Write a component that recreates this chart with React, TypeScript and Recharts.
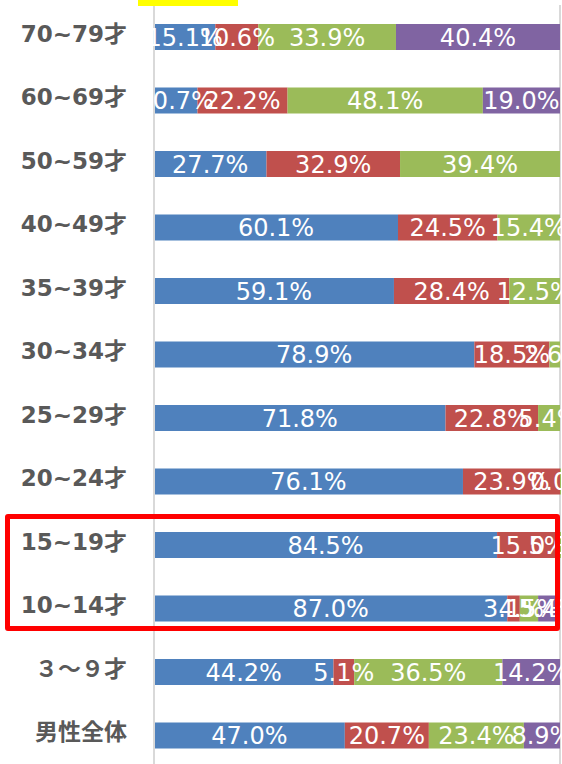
import React from "react";
import {
  BarChart,
  Bar,
  XAxis,
  YAxis,
  CartesianGrid,
  LabelList,
} from "recharts";

const categories = [
  "70~79才",
  "60~69才",
  "50~59才",
  "40~49才",
  "35~39才",
  "30~34才",
  "25~29才",
  "20~24才",
  "15~19才",
  "10~14才",
  "３～９才",
  "男性全体",
];
const blue = [15.1, 10.7, 27.7, 60.1, 59.1, 78.9, 71.8, 76.1, 84.5, 87.0, 44.2, 47.0];
const red = [10.6, 22.2, 32.9, 24.5, 28.4, 18.5, 22.8, 23.9, 15.5, 3.1, 5.1, 20.7];
const green = [33.9, 48.1, 39.4, 15.4, 12.5, 2.6, 5.4, 0.0, 0.0, 4.5, 36.5, 23.4];
const purple = [40.4, 19.0, null, null, null, null, null, null, null, 5.4, 14.2, 8.9];
const xTicks = [0, 20, 40, 60, 80, 100];

const data = categories.map((name, i) => ({
  name,
  s1: blue[i],
  s2: red[i],
  s3: green[i],
  s4: purple[i],
}));

const series = [
  { key: "s1", color: "#4f81bd" },
  { key: "s2", color: "#c0504d" },
  { key: "s3", color: "#9bbb59" },
  { key: "s4", color: "#8064a2" },
];

const fmt = (v: any) => (v == null ? "" : `${Number(v).toFixed(1)}%`);

// category label a little above the bar centre, like the original
const CatTick = (props: any) => {
  const { x, y, payload } = props;
  return (
    <text
      x={x}
      y={y - 3}
      textAnchor="end"
      dominantBaseline="central"
      fill="#595959"
      fontSize={23}
      fontWeight="bold"
      fontFamily="DejaVu Sans, Noto Sans CJK JP"
    >
      {payload.value}
    </text>
  );
};

const App = () => {
  return (
    <div
      style={{
        position: "absolute",
        left: 0,
        top: 0,
        width: 562,
        height: 764,
        overflow: "hidden",
        background: "#fff",
      }}
    >
      <BarChart
        width={562}
        height={770}
        data={data}
        layout="vertical"
        margin={{ top: 5, right: 2, bottom: 3, left: 0 }}
      >
        <CartesianGrid horizontal={false} stroke="#d9d9d9" strokeWidth={2} />
        <XAxis
          type="number"
          domain={[0, 100]}
          ticks={xTicks}
          height={0}
          tick={false}
          axisLine={false}
          tickLine={false}
        />
        <YAxis
          type="category"
          dataKey="name"
          width={154}
          tickLine={false}
          tickSize={0}
          tickMargin={27}
          axisLine={{ stroke: "#d9d9d9", strokeWidth: 2 }}
          tick={<CatTick />}
        />
        {series.map((s) => (
          <Bar
            key={s.key}
            dataKey={s.key}
            stackId="a"
            fill={s.color}
            barSize={26}
            minPointSize={s.key === "s3" ? 1 : 0}
            isAnimationActive={false}
          >
            <LabelList
              dataKey={s.key}
              position="center"
              formatter={fmt}
              fill="#ffffff"
              style={{ fontSize: 24, fontFamily: "DejaVu Sans" }}
            />
          </Bar>
        ))}
      </BarChart>
      <div
        style={{
          position: "absolute",
          left: 138,
          top: 0,
          width: 100,
          height: 6,
          background: "#ffff00",
        }}
      />
      <div
        style={{
          position: "absolute",
          left: 5,
          top: 514,
          width: 545,
          height: 107,
          border: "5px solid #ff0000",
          borderRadius: 3,
        }}
      />
    </div>
  );
};

export default App;
